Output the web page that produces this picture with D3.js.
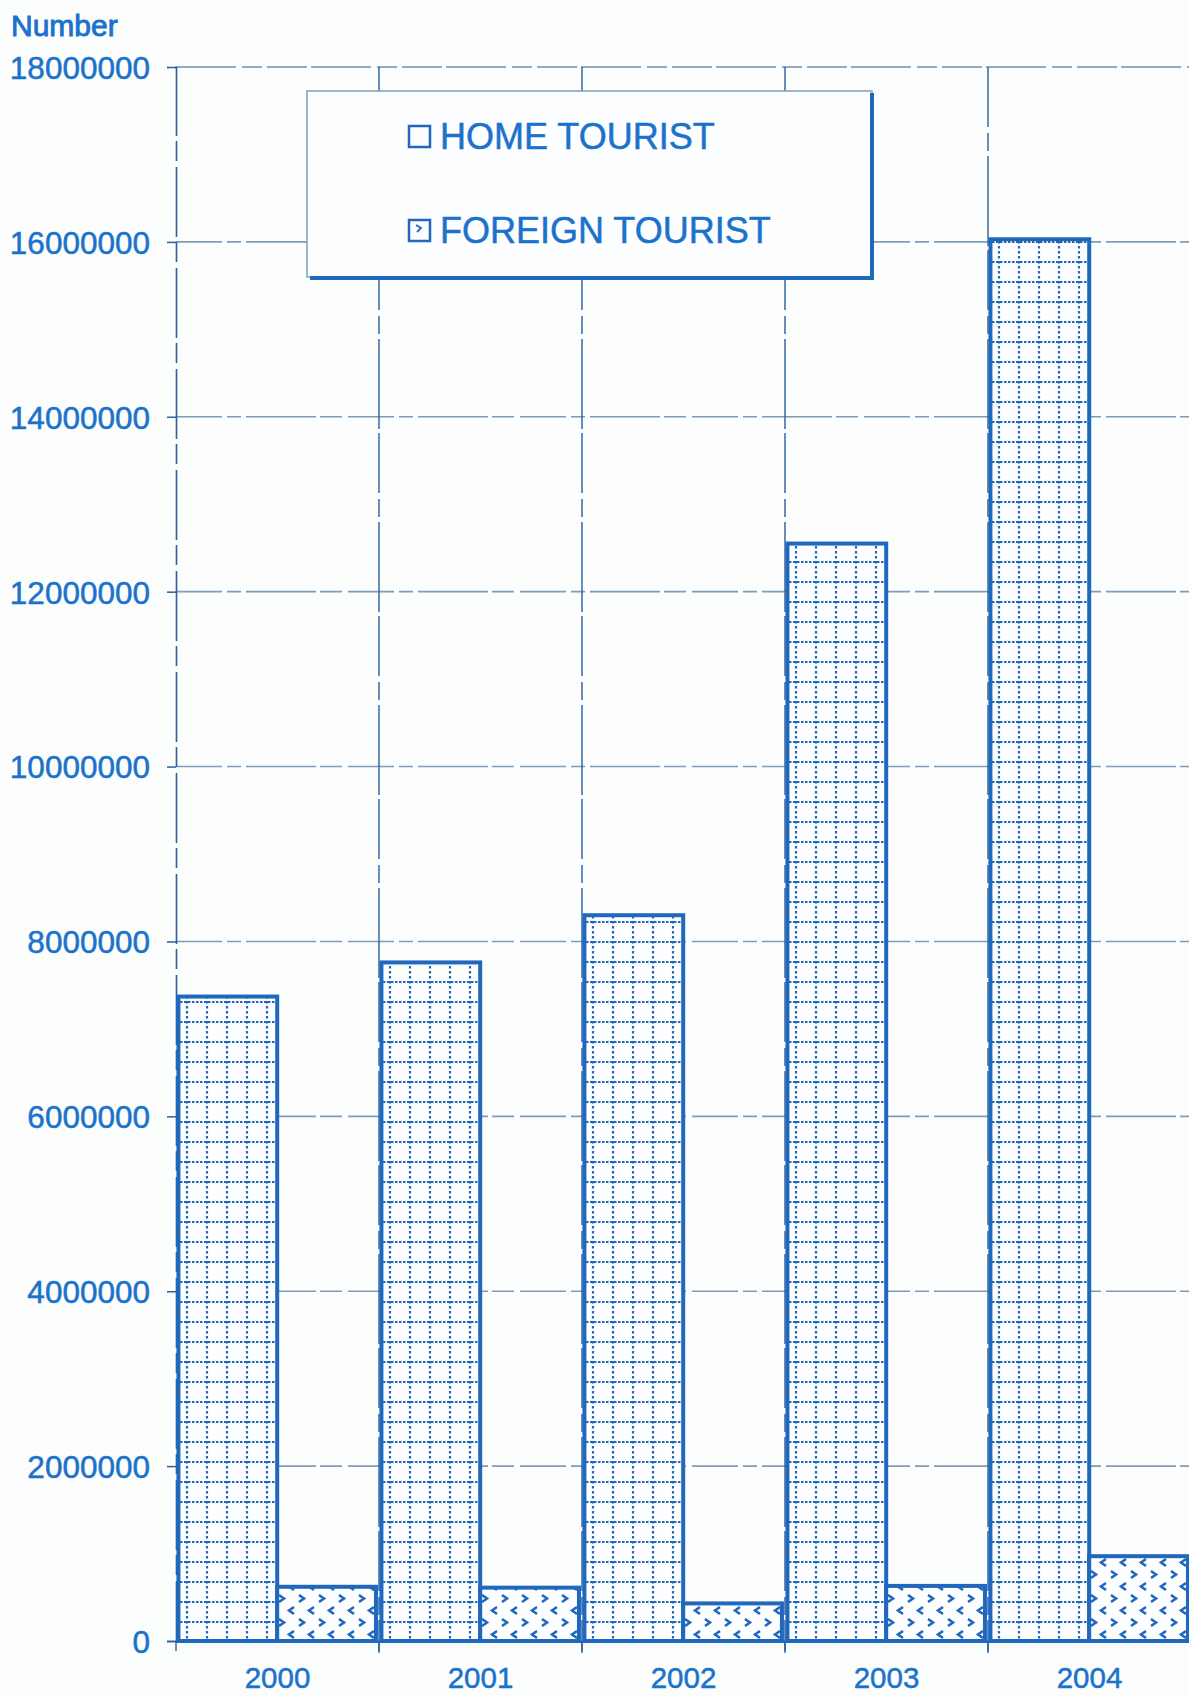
<!DOCTYPE html>
<html>
<head>
<meta charset="utf-8">
<script src="https://cdnjs.cloudflare.com/ajax/libs/d3/7.8.5/d3.min.js"></script>
<style>
html,body{margin:0;padding:0;background:#fcfdfd;}
svg{display:block;}
text{font-family:"Liberation Sans",Arial,sans-serif;fill:#1b72cc;stroke:#1b72cc;stroke-width:0.5px;}
</style>
</head>
<body>
<svg id="chart" width="1189" height="1696"></svg>
<script>
// ---- data ----
const years = ["2000", "2001", "2002", "2003", "2004"];
const homeTourists = [7370000, 7760000, 8300000, 12550000, 16030000];
const foreignTourists = [620000, 610000, 430000, 630000, 970000];
const yTicks = [0, 2000000, 4000000, 6000000, 8000000, 10000000, 12000000, 14000000, 16000000, 18000000];
const seriesNames = ["HOME TOURIST", "FOREIGN TOURIST"];
const yTitle = "Number";

(function () {
const blue = "#1b72cc";
const barBlue = "#1f68bd";
const svg = d3.select("#chart");
const W = 1189, H = 1696;
svg.append("rect").attr("width", W).attr("height", H).attr("fill", "#fcfdfd");

const pl = 176, pr = 1191, pt = 67, pb = 1641;
const x = d3.scaleBand().domain(years).range([pl, pr]).padding(0);
const bw = x.bandwidth();
const x1 = d3.scaleBand().domain(["home", "foreign"]).range([bw * 0.012, bw * 0.985]).padding(0);
const y = d3.scaleLinear().domain([0, 18000000]).range([pb, pt]);

// patterns
const defs = svg.append("defs");
const pHome = defs.append("pattern").attr("id", "pHome").attr("patternUnits", "userSpaceOnUse")
  .attr("width", 20).attr("height", 20).attr("x", pl + 4).attr("y", pb);
pHome.append("rect").attr("width", 20).attr("height", 20).attr("fill", "#fdfeff");
pHome.append("line").attr("x1", 0).attr("x2", 20).attr("y1", 1).attr("y2", 1)
  .attr("stroke", barBlue).attr("stroke-width", 2.2).attr("stroke-dasharray", "2.5,1.5");
pHome.append("line").attr("x1", 11).attr("x2", 11).attr("y1", 0).attr("y2", 20)
  .attr("stroke", barBlue).attr("stroke-width", 2.2).attr("stroke-dasharray", "2.5,2.5");

const pFor = defs.append("pattern").attr("id", "pFor").attr("patternUnits", "userSpaceOnUse")
  .attr("width", 20).attr("height", 24).attr("x", 0).attr("y", pb);
pFor.append("rect").attr("width", 20).attr("height", 24).attr("fill", "#fdfeff");
pFor.append("path").attr("d", "M3,2 L8,5.5 L3,9").attr("fill", "none").attr("stroke", barBlue).attr("stroke-width", 2.6);
pFor.append("path").attr("d", "M18,14 L13,17.5 L18,21").attr("fill", "none").attr("stroke", barBlue).attr("stroke-width", 2.6);

// horizontal gridlines
svg.append("g").selectAll("line").data(yTicks.filter(d => d > 0 && d < 18000000)).join("line")
  .attr("x1", pl).attr("x2", W)
  .attr("y1", d => y(d)).attr("y2", d => y(d))
  .attr("stroke", "#7e9cba").attr("stroke-width", 1.6)
  .attr("stroke-dasharray", "46,5,14,5,70,4,22,6");
svg.append("line").attr("x1", pl).attr("x2", W).attr("y1", y(18000000)).attr("y2", y(18000000))
  .attr("stroke", "#6f8fb0").attr("stroke-width", 1.6).attr("stroke-dasharray", "60,6,20,5,40,4");

// vertical gridlines (category boundaries)
svg.append("g").selectAll("line").data(years.slice(1)).join("line")
  .attr("x1", d => x(d)).attr("x2", d => x(d))
  .attr("y1", pt).attr("y2", pb + 12)
  .attr("stroke", "#2a5f9e").attr("stroke-width", 1.4)
  .attr("stroke-dasharray", "60,6,18,5,90,4");

// y axis
const yAxis = d3.axisLeft(y).tickValues(yTicks).tickSize(9).tickFormat(d => String(d));
const gy = svg.append("g").attr("transform", `translate(${pl},0)`).call(yAxis);
gy.select(".domain").attr("stroke", "#2a5f9e").attr("stroke-width", 1.6).attr("stroke-dasharray", "70,6,20,5");
gy.selectAll(".tick line").attr("stroke", "#2a5f9e").attr("stroke-width", 1.5);
gy.selectAll(".tick text").attr("x", -26).attr("dy", "0.36em")
  .style("font-family", '"Liberation Sans",Arial,sans-serif').style("font-size", "31.5px").attr("fill", blue);

// bars
const data = years.map((yr, i) => ({ year: yr, home: homeTourists[i], foreign: foreignTourists[i] }));
const g = svg.append("g");
const groups = g.selectAll("g").data(data).join("g").attr("transform", d => `translate(${x(d.year)},0)`);
groups.append("rect")
  .attr("x", x1("home")).attr("width", x1.bandwidth())
  .attr("y", d => y(d.home)).attr("height", d => y(0) - y(d.home))
  .attr("fill", "url(#pHome)").attr("stroke", barBlue).attr("stroke-width", 4);
groups.append("rect")
  .attr("x", x1("foreign")).attr("width", x1.bandwidth())
  .attr("y", d => y(d.foreign)).attr("height", d => y(0) - y(d.foreign))
  .attr("fill", "url(#pFor)").attr("stroke", barBlue).attr("stroke-width", 4);

// x axis
const xAxis = d3.axisBottom(x).tickSize(0).tickPadding(0);
const gx = svg.append("g").attr("transform", `translate(0,${pb})`).call(xAxis);
gx.select(".domain").attr("stroke", barBlue).attr("stroke-width", 2);
gx.selectAll(".tick text").attr("y", 47).attr("dy", 0)
  .style("font-family", '"Liberation Sans",Arial,sans-serif').style("font-size", "29.5px").attr("fill", blue);

svg.append("g").selectAll("line").data(years).join("line")
  .attr("x1", d => x(d)).attr("x2", d => x(d)).attr("y1", pb).attr("y2", pb + 10)
  .attr("stroke", "#2a5f9e").attr("stroke-width", 1.4);

// y title
svg.append("text").attr("x", 11).attr("y", 36).text(yTitle)
  .style("font-size", "30px").style("stroke-width", "0.9px");

// legend
const lg = svg.append("g");
lg.append("rect").attr("x", 307).attr("y", 91).attr("width", 565).attr("height", 186)
  .attr("fill", "#fdfeff").attr("stroke", "#7f9ec0").attr("stroke-width", 1.5);
lg.append("line").attr("x1", 872).attr("x2", 872).attr("y1", 93).attr("y2", 280)
  .attr("stroke", barBlue).attr("stroke-width", 4);
lg.append("line").attr("x1", 310).attr("x2", 874).attr("y1", 278).attr("y2", 278)
  .attr("stroke", barBlue).attr("stroke-width", 4);
const legendY = [149, 243];
seriesNames.forEach((name, i) => {
  lg.append("rect").attr("x", 409).attr("y", legendY[i] - 23).attr("width", 21).attr("height", 21)
    .attr("fill", "#fdfeff").attr("stroke", barBlue).attr("stroke-width", 2.5);
  if (i === 1) {
    lg.append("path").attr("d", `M416,${legendY[i] - 18} L421,${legendY[i] - 15} L417,${legendY[i] - 11}`)
      .attr("fill", "none").attr("stroke", barBlue).attr("stroke-width", 1.8);
  }
  lg.append("text").attr("x", 440).attr("y", legendY[i]).text(name).style("font-size", "36px");
});
})();
</script>
</body>
</html>
